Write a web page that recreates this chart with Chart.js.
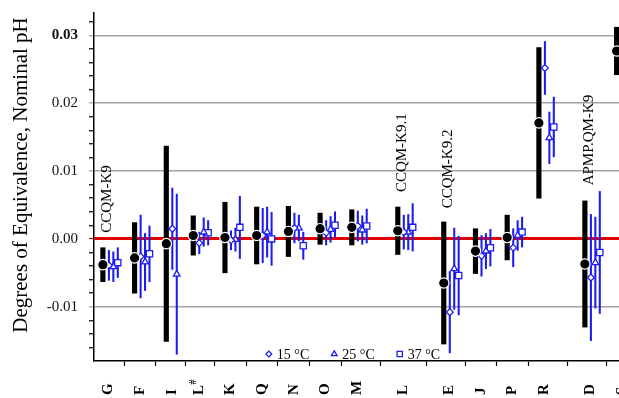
<!DOCTYPE html>
<html>
<head>
<meta charset="utf-8">
<script src="https://cdn.jsdelivr.net/npm/chart.js@4.4.1/dist/chart.umd.min.js"></script>
<style>
  html, body { margin: 0; padding: 0; background: #fff; overflow: hidden; }
  #wrap { width: 619px; height: 398px; position: relative; }
</style>
</head>
<body>
<div id="wrap"><canvas id="doe"></canvas></div>
<script>
// Participants along the horizontal axis and where each one sits on it
const categories = ['G', 'F', 'I', 'L#', 'K', 'Q', 'N', 'O', 'M', 'L', 'E', 'J', 'P', 'R', 'D', 'S'];
const positions  = [1, 2, 3, 3.85, 4.85, 5.85, 6.85, 7.85, 8.85, 10.3, 11.75, 12.75, 13.75, 14.75, 16.2, 17.2];

// Degrees of equivalence at nominal pH with expanded uncertainty (half-width)
const refValue = [-0.0038, -0.0028, -0.0007, 0.0005, 0.0002, 0.0005, 0.0011, 0.0015, 0.0017, 0.0012, -0.0065, -0.0018, 0.0002, 0.0171, -0.0037, 0.0277];
const refHalf  = [0.0025, 0.0052, 0.0144, 0.0029, 0.0052, 0.0042, 0.0037, 0.0023, 0.0026, 0.0035, 0.0090, 0.0033, 0.0033, 0.0111, 0.0093, 0.0035];

// Results at the individual temperatures
const t15Value = [-0.0039, -0.0026, 0.0015, -0.0006, -0.0002, 0.0005, 0.0016, 0.0009, 0.0019, 0.0010, -0.0108, -0.0025, -0.0013, 0.0252, -0.0057, 0.0277];
const t15Half  = [0.0022, 0.0061, 0.0060, 0.0016, 0.0014, 0.0040, 0.0022, 0.0018, 0.0022, 0.0025, 0.0060, 0.0030, 0.0028, 0.0039, 0.0093, 0.0030];
const t25Value = [-0.0041, -0.0034, -0.0052, 0.0010, -0.0001, 0.0010, 0.0016, 0.0014, 0.0013, 0.0010, -0.0044, -0.0018, 0.0005, 0.0149, -0.0035, null];
const t25Half  = [0.0022, 0.0042, 0.0118, 0.0021, 0.0017, 0.0037, 0.0019, 0.0019, 0.0021, 0.0026, 0.0060, 0.0026, 0.0022, 0.0038, 0.0067, null];
const t37Value = [-0.0035, -0.0022, null, 0.0009, 0.0017, 0.0000, -0.0010, 0.0020, 0.0019, 0.0017, -0.0054, -0.0013, 0.0010, 0.0165, -0.0020, null];
const t37Half  = [0.0022, 0.0041, null, 0.0018, 0.0046, 0.0039, 0.0020, 0.0020, 0.0025, 0.0035, 0.0058, 0.0027, 0.0022, 0.0044, 0.0090, null];

const seriesLabels = ['15 °C', '25 °C', '37 °C'];

// Labelled values on the vertical axis
const yTickValues = [-0.01, 0.00, 0.01, 0.02, 0.03];
const yTickText   = ['-0.01', '0.00', '0.01', '0.02', '0.03'];

// Comparison names written above their first participant
const noteText = ['CCQM-K9', 'CCQM-K9.1', 'CCQM-K9.2', 'APMP.QM-K9'];
const noteAt   = ['G', 'L', 'E', 'D'];
const noteY    = [0.0009, 0.0069, 0.0045, 0.0079];

const SERIF = '"Liberation Serif", "Times New Roman", serif';
const BLUE = '#1c1cf0';
const RED = '#e60000';
const GRID = '#a3a3a3';

function barData(values, half, shift) {
  const out = [];
  values.forEach((v, i) => {
    if (v !== null) out.push({ x: positions[i] + shift, y: [v - half[i], v + half[i]] });
  });
  return out;
}
function pointData(values, shift) {
  const out = [];
  values.forEach((v, i) => {
    if (v !== null) out.push({ x: positions[i] + shift, y: v });
  });
  return out;
}
function isMajor(v) {
  return yTickValues.findIndex(t => Math.abs(t - v) < 1e-9);
}

const temps = [
  { label: seriesLabels[0], values: t15Value, half: t15Half, shift: 0.02, style: 'rectRot', radius: 3.4 },
  { label: seriesLabels[1], values: t25Value, half: t25Half, shift: 0.16, style: 'triangle', radius: 3.8 },
  { label: seriesLabels[2], values: t37Value, half: t37Half, shift: 0.30, style: 'rect', radius: 4.4 }
];

const datasets = [
  { type: 'bar', data: barData(refValue, refHalf, -0.17), backgroundColor: '#000', barThickness: 4.5,
    grouped: false, order: 2, clip: false },
  { type: 'scatter', data: pointData(refValue, -0.17), pointStyle: 'circle', pointRadius: 5.2,
    backgroundColor: '#000', borderColor: '#fff', borderWidth: 1.2, order: 0, clip: false }
];
temps.forEach(t => {
  datasets.push({ type: 'bar', data: barData(t.values, t.half, t.shift), backgroundColor: BLUE,
                  barThickness: 1.4, grouped: false, order: 2, clip: false });
  datasets.push({ type: 'scatter', label: t.label, inLegend: true, data: pointData(t.values, t.shift),
                  pointStyle: t.style, pointRadius: t.radius, backgroundColor: '#fff',
                  borderColor: BLUE, borderWidth: 1.3, order: 1, clip: false });
});

// Category names, axis title, comparison names and the inline key
const figureText = {
  id: 'figureText',
  afterDraw(chart) {
    const { ctx, chartArea } = chart;
    const x = chart.scales.x, y = chart.scales.y;
    ctx.save();
    ctx.fillStyle = '#000';
    ctx.textBaseline = 'middle';

    // category names, reading upward from a common base line
    categories.forEach((name, i) => {
      const px = x.getPixelForValue(positions[i]);
      ctx.save();
      ctx.translate(px, chartArea.bottom + 34);
      ctx.rotate(-Math.PI / 2);
      ctx.textAlign = 'left';
      const base = name.replace('#', '');
      ctx.font = 'bold 15px ' + SERIF;
      ctx.fillText(base, 0, 0);
      if (name.includes('#')) {
        const w = ctx.measureText(base).width;
        ctx.font = 'bold 10px ' + SERIF;
        ctx.fillText('#', w + 0.5, -5);
      }
      ctx.restore();
    });

    // vertical axis title
    ctx.save();
    ctx.translate(21, (chartArea.top + chartArea.bottom) / 2 - 12);
    ctx.rotate(-Math.PI / 2);
    ctx.textAlign = 'center';
    ctx.font = '21px ' + SERIF;
    ctx.fillText('Degrees of Equivalence, Nominal pH', 0, 0);
    ctx.restore();

    // comparison names
    noteText.forEach((txt, i) => {
      const px = x.getPixelForValue(positions[categories.indexOf(noteAt[i])]) - 1;
      const py = y.getPixelForValue(noteY[i]);
      ctx.save();
      ctx.translate(px, py);
      ctx.rotate(-Math.PI / 2);
      ctx.textAlign = 'left';
      ctx.font = '15px ' + SERIF;
      ctx.fillText(txt, 0, 0);
      ctx.restore();
    });

    // key along the bottom of the plot
    const items = chart.data.datasets.filter(d => d.inLegend);
    ctx.font = '14px ' + SERIF;
    const gapMarker = 8, gapItem = 25;
    const widths = items.map(d => ctx.measureText(d.label).width);
    const span = widths.reduce((s, w) => s + gapMarker + w, 0) + gapItem * (items.length - 1);
    let cx = (chartArea.left + chartArea.right) / 2 - 2 - span / 2;
    const ky = chartArea.bottom - 7;
    items.forEach((d, i) => {
      ctx.fillStyle = '#fff';
      ctx.strokeStyle = BLUE;
      ctx.lineWidth = 1.3;
      Chart.helpers.drawPoint(ctx, { pointStyle: d.pointStyle, radius: d.pointRadius * 0.85, borderWidth: 1.3, rotation: 0 }, cx, ky);
      ctx.fillStyle = '#000';
      ctx.textAlign = 'left';
      ctx.fillText(d.label, cx + gapMarker, ky + 1);
      cx += gapMarker + widths[i] + gapItem;
    });
    ctx.restore();
  }
};

Chart.defaults.font.family = SERIF;

new Chart(document.getElementById('doe'), {
  type: 'bar',
  data: { datasets },
  options: {
    responsive: true,
    maintainAspectRatio: false,
    devicePixelRatio: 1,
    animation: false,
    events: [],
    layout: { autoPadding: false, padding: { top: 13, right: 0, bottom: 0, left: 0 } },
    plugins: { legend: { display: false }, tooltip: { enabled: false } },
    scales: {
      x: {
        type: 'linear',
        min: 0.55,
        max: 17.106,
        offset: false,
        afterBuildTicks: s => { s.ticks = positions.map(v => ({ value: v })); },
        afterFit: s => { s.height = 37; s.paddingLeft = 0; s.paddingRight = 0; },
        ticks: { display: false, autoSkip: false },
        grid: { drawOnChartArea: false, drawTicks: true, tickLength: 5, tickColor: '#000', tickWidth: 1.2 },
        border: { display: true, color: '#000', width: 1.5 }
      },
      y: {
        type: 'linear',
        min: -0.018,
        max: 0.0333,
        afterFit: s => { s.width = 94; s.paddingTop = 0; s.paddingBottom = 0; },
        ticks: {
          stepSize: 0.002,
          includeBounds: false,
          autoSkip: false,
          padding: 11,
          color: '#111',
          font: c => ({ family: SERIF, size: 15,
                        weight: (c.tick && Math.abs(c.tick.value - 0.03) < 1e-9) ? 'bold' : 'normal' }),
          callback: v => { const k = isMajor(v); return k >= 0 ? yTickText[k] : ''; }
        },
        grid: {
          drawOnChartArea: true,
          drawTicks: true,
          tickLength: 5,
          color: c => {
            const k = isMajor(c.tick.value);
            if (k < 0) return 'rgba(0,0,0,0)';
            return Math.abs(c.tick.value) < 1e-9 ? RED : GRID;
          },
          lineWidth: c => Math.abs(c.tick.value) < 1e-9 ? 3 : 1.5,
          tickColor: c => {
            const k = isMajor(c.tick.value);
            if (k < 0) return '#000';
            return Math.abs(c.tick.value) < 1e-9 ? RED : GRID;
          },
          tickWidth: 1.2
        },
        border: { display: true, color: '#000', width: 1.5 }
      }
    }
  },
  plugins: [figureText]
});
</script>
</body>
</html>
